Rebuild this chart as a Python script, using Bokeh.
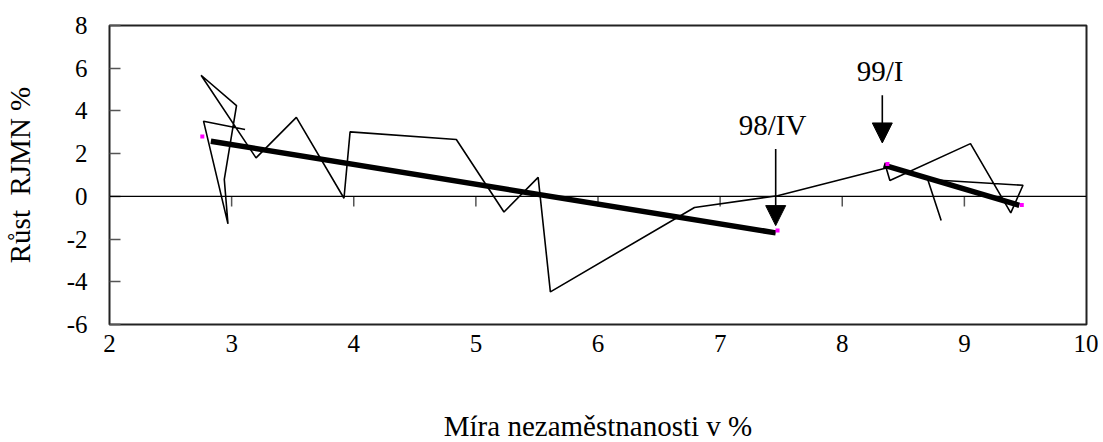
from bokeh.plotting import figure
from bokeh.models import Range1d, FixedTicker, Span, Arrow, NormalHead, ColumnDataSource
from bokeh.embed import file_html
from bokeh.resources import INLINE
from bokeh.core.properties import value

# Data: unemployment rate (x) vs. growth of real wages (y)
unemployment = [3.11, 2.77, 2.97, 2.94, 3.04, 2.75, 3.20, 3.53, 3.92, 3.97, 4.84, 5.23,
                5.51, 5.61, 6.79, 7.47, 8.36, 8.39, 9.05, 9.38, 9.48, 8.70, 8.81]
growth = [3.13, 3.52, -1.29, 0.79, 4.25, 5.67, 1.80, 3.70, -0.09, 3.02, 2.66, -0.73,
          0.89, -4.47, -0.52, 0.03, 1.33, 0.74, 2.47, -0.77, 0.52, 0.79, -1.13]

trend1_x = [2.83, 7.455]
trend1_y = [2.58, -1.71]
trend2_x = [8.34, 9.45]
trend2_y = [1.46, -0.42]

end_marks_x = [2.76, 7.47, 8.37, 9.47]
end_marks_y = [2.80, -1.60, 1.52, -0.40]

labels = ["98/IV", "99/I"]
label_x = [7.43, 8.31]
label_y = [3.36, 5.86]
arrow_x = [7.455, 8.328]
arrow_y0 = [2.22, 4.73]
arrow_y1 = [-1.37, 2.50]

x_ticks = [2, 3, 4, 5, 6, 7, 8, 9, 10]
y_ticks = [-6, -4, -2, 0, 2, 4, 6, 8]

FONT = "Liberation Serif"

p = figure(frame_width=977, frame_height=299, output_backend="svg", toolbar_location=None,
           x_range=Range1d(2, 10), y_range=Range1d(-6, 8),
           min_border_left=101, min_border_right=12, min_border_top=25, min_border_bottom=100)
p.grid.visible = False
p.background_fill_color = "white"
p.border_fill_color = "white"
p.outline_line_color = "#222222"
p.outline_line_width = 2

# axes
p.xaxis.ticker = FixedTicker(ticks=x_ticks)
p.yaxis.ticker = FixedTicker(ticks=y_ticks)
for ax in (p.xaxis[0], p.yaxis[0]):
    ax.major_label_text_font = FONT
    ax.major_label_text_font_size = "25px"
    ax.major_label_text_color = "black"
    ax.axis_label_text_font = FONT
    ax.axis_label_text_font_size = "29px"
    ax.axis_label_text_font_style = "normal"
    ax.axis_label_text_color = "black"
    ax.minor_tick_line_color = None
    ax.axis_line_color = None

p.xaxis.axis_label = "Míra nezaměstnanosti v %"
p.xaxis.major_tick_line_color = None
p.xaxis.major_label_standoff = 4
p.xaxis.axis_label_standoff = 55

p.yaxis.axis_label = "Růst\u00a0\u00a0RJMN %"
p.yaxis.major_label_overrides = {t: str(t) for t in y_ticks}
p.yaxis.major_tick_in = 11
p.yaxis.major_tick_out = 0
p.yaxis.major_tick_line_color = "#555555"
p.yaxis.major_tick_line_width = 1.5
p.yaxis.major_label_standoff = 22
p.yaxis.axis_label_standoff = 28

# zero line with tick marks
p.add_layout(Span(location=0, dimension="width", line_color="black", line_width=1.2))
inner = [t for t in x_ticks if x_ticks[0] < t < x_ticks[-1]]
p.segment(x0=inner, y0=[0] * len(inner), x1=inner, y1=[-0.48] * len(inner),
          line_color="#555555", line_width=1.5)

# data path
p.line(unemployment, growth, line_color="black", line_width=1.6)

# trend lines
p.line(trend1_x, trend1_y, line_color="black", line_width=5.5)
p.line(trend2_x, trend2_y, line_color="black", line_width=5.5)
p.scatter(end_marks_x, end_marks_y, marker="square", size=4, fill_color="#ff00ff",
          line_color=None)

# arrows and labels
for x, y0, y1 in zip(arrow_x, arrow_y0, arrow_y1):
    p.add_layout(Arrow(end=NormalHead(size=20, fill_color="black", line_color="black"),
                       x_start=x, y_start=y0, x_end=x, y_end=y1,
                       line_color="black", line_width=1.6))

src = ColumnDataSource(dict(x=label_x, y=label_y, t=labels))
p.text(x="x", y="y", text="t", source=src, text_font=value(FONT), text_font_size="29px",
       text_align="center", text_baseline="alphabetic", text_color="black")

open("out.html", "w").write(file_html(p, INLINE))
